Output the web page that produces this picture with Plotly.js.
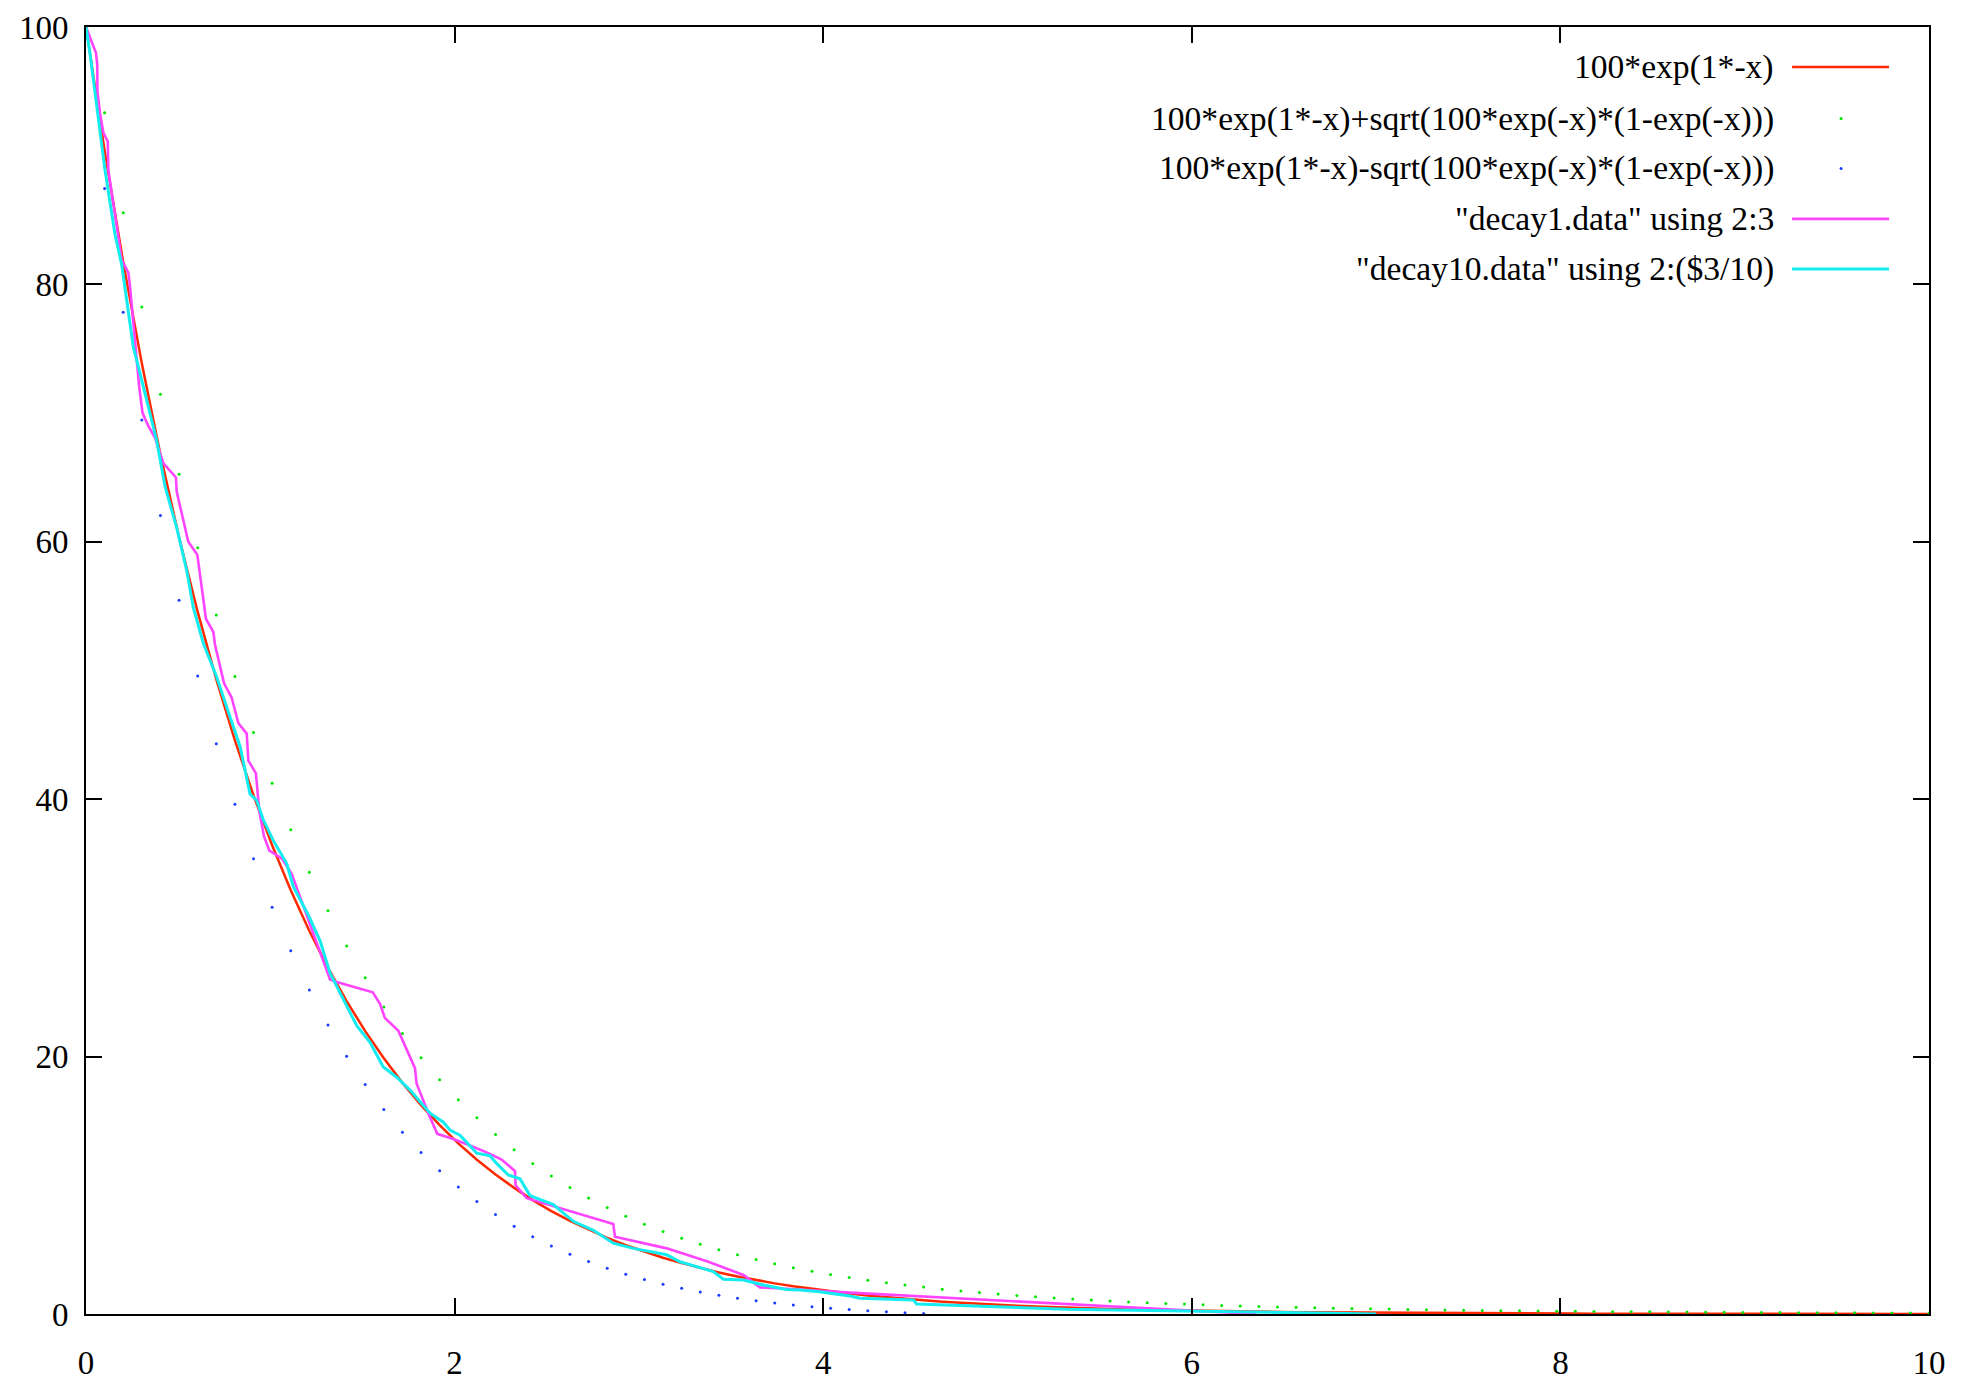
<!DOCTYPE html>
<html>
<head>
<meta charset="utf-8">
<script src="https://cdn.plot.ly/plotly-3.0.1.min.js"></script>
<style>html,body{margin:0;padding:0;background:#fff;}#chart{width:1968px;height:1383px;}</style>
</head>
<body>
<div id="chart"></div>
<script>
// Function samples (gnuplot, 100 samples on [0,10])
const fx = [0,0.101,0.202,0.303,0.404,0.505,0.606,0.707,0.808,0.909,1.010,1.111,1.212,1.313,1.414,1.515,1.616,1.717,1.818,1.919,2.020,2.121,2.222,2.323,2.424,2.525,2.626,2.727,2.828,2.929,3.030,3.131,3.232,3.333,3.434,3.535,3.636,3.737,3.838,3.939,4.040,4.141,4.242,4.343,4.444,4.545,4.646,4.747,4.848,4.949,5.051,5.152,5.253,5.354,5.455,5.556,5.657,5.758,5.859,5.960,6.061,6.162,6.263,6.364,6.465,6.566,6.667,6.768,6.869,6.970,7.071,7.172,7.273,7.374,7.475,7.576,7.677,7.778,7.879,7.980,8.081,8.182,8.283,8.384,8.485,8.586,8.687,8.788,8.889,8.990,9.091,9.192,9.293,9.394,9.495,9.596,9.697,9.798,9.899,10];

const expY = [100,90.39,81.71,73.86,66.76,60.35,54.55,49.31,44.57,40.29,36.42,32.92,29.76,26.90,24.31,21.98,19.87,17.96,16.23,14.67,13.26,11.99,10.84,9.80,8.85,8.00,7.23,6.54,5.91,5.34,4.83,4.37,3.95,3.57,3.22,2.92,2.64,2.38,2.15,1.95,1.76,1.59,1.44,1.30,1.17,1.06,0.96,0.87,0.78,0.71,0.64,0.58,0.52,0.47,0.43,0.39,0.35,0.32,0.29,0.26,0.23,0.21,0.19,0.17,0.16,0.14,0.13,0.12,0.10,0.09,0.085,0.077,0.069,0.063,0.057,0.051,0.046,0.042,0.038,0.034,0.031,0.028,0.025,0.023,0.021,0.019,0.017,0.015,0.014,0.012,0.011,0.010,0.009,0.008,0.007,0.007,0.006,0.005,0.005,0.005];

const upperY = [100,93.34,85.57,78.25,71.47,65.24,59.53,54.31,49.54,45.19,41.23,37.62,34.33,31.33,28.60,26.12,23.86,21.80,19.92,18.21,16.65,15.24,13.94,12.77,11.70,10.72,9.83,9.01,8.27,7.59,6.97,6.41,5.89,5.42,4.99,4.60,4.24,3.91,3.60,3.33,3.07,2.84,2.63,2.43,2.25,2.09,1.93,1.79,1.67,1.55,1.44,1.34,1.24,1.16,1.08,1.01,0.94,0.88,0.82,0.77,0.72,0.67,0.63,0.59,0.55,0.52,0.48,0.45,0.43,0.40,0.38,0.35,0.33,0.31,0.30,0.28,0.26,0.25,0.23,0.22,0.21,0.19,0.18,0.18,0.17,0.16,0.15,0.14,0.13,0.12,0.12,0.11,0.10,0.10,0.09,0.09,0.08,0.08,0.08,0.07];

const lowerX = [0,0.101,0.202,0.303,0.404,0.505,0.606,0.707,0.808,0.909,1.010,1.111,1.212,1.313,1.414,1.515,1.616,1.717,1.818,1.919,2.020,2.121,2.222,2.323,2.424,2.525,2.626,2.727,2.828,2.929,3.030,3.131,3.232,3.333,3.434,3.535,3.636,3.737,3.838,3.939,4.040,4.141,4.242,4.343,4.444,4.545];
const lowerY = [100,87.45,77.84,69.46,62.05,55.46,49.57,44.31,39.60,35.38,31.61,28.22,25.18,22.46,20.02,17.84,15.88,14.12,12.54,11.13,9.87,8.74,7.73,6.82,6.01,5.29,4.64,4.07,3.55,3.09,2.69,2.32,2.00,1.71,1.46,1.23,1.03,0.86,0.70,0.57,0.44,0.34,0.25,0.17,0.10,0.04];

// decay1.data (using 2:3)
const decay1X = [0,0.054,0.061,0.062,0.076,0.094,0.118,0.121,0.194,0.230,0.239,0.289,0.307,0.338,0.374,0.420,0.488,0.492,0.555,0.604,0.651,0.691,0.700,0.749,0.790,0.827,0.872,0.881,0.922,0.940,0.966,0.995,1.062,1.116,1.324,1.360,1.556,1.595,1.622,1.695,1.785,1.794,1.830,1.857,1.906,1.993,2.100,2.183,2.255,2.328,2.331,2.391,2.861,2.870,3.151,3.377,3.567,3.657,3.874,4.145,6.35];
const decay1Y = [100,98.0,97.1,95.0,93.3,91.8,91.1,88.9,81.9,80.9,79.8,72.0,70.0,69.0,68.1,66.1,65.0,63.9,60.0,59.0,54.0,53.0,52.0,49.0,47.9,45.9,45.1,43.0,42.0,39.1,37.1,36.0,35.4,34.2,26.0,25.8,25.0,24.1,23.0,22.0,19.1,17.9,16.6,15.6,14.0,13.6,13.0,12.5,12.0,11.1,10.0,9.0,7.0,6.0,5.1,4.06,3.03,2.07,1.9,1.66,0];

// decay10.data (using 2:($3/10))
const decay10X = [0,0.022,0.103,0.157,0.194,0.257,0.293,0.383,0.429,0.492,0.546,0.582,0.637,0.709,0.781,0.836,0.890,0.926,0.962,1.016,1.089,1.125,1.206,1.270,1.324,1.414,1.469,1.541,1.613,1.686,1.758,1.830,1.867,1.939,1.975,2.029,2.120,2.192,2.228,2.291,2.355,2.409,2.536,2.644,2.753,2.861,2.970,3.151,3.223,3.404,3.458,3.567,3.675,3.800,3.874,3.980,4.145,4.200,4.490,4.507,4.960,5.320,5.860,6.400,7.000];
const decay10Y = [100,97.9,88.9,83.9,81.5,75.1,73.1,67.9,64.3,61.1,57.8,54.9,52.1,49.5,46.4,44.1,40.4,39.9,38.4,36.8,35.0,33.2,31.0,29.0,26.5,23.9,22.4,21.1,19.2,18.4,17.4,16.2,15.6,14.9,14.3,13.9,12.5,12.3,11.7,10.8,10.5,9.2,8.5,7.2,6.5,5.5,5.1,4.6,4.06,3.3,2.7,2.64,2.25,1.9,1.86,1.73,1.4,1.22,1.09,0.78,0.57,0.36,0.26,0.12,0];

const names = [
  '100*exp(1*-x)',
  '100*exp(1*-x)+sqrt(100*exp(-x)*(1-exp(-x)))',
  '100*exp(1*-x)-sqrt(100*exp(-x)*(1-exp(-x)))',
  '"decay1.data" using 2:3',
  '"decay10.data" using 2:($3/10)'
];
const xTicks = [0,2,4,6,8,10];
const yTicks = [0,20,40,60,80,100];

const RED = '#ff2a00', GREEN = '#00e600', BLUE = '#1a3cff', MAG = '#ff44ff', CYAN = '#14ecf0';
const FONT = 'Liberation Serif, Times New Roman, serif';

const traces = [
  {x: fx, y: expY, mode: 'lines', line: {color: RED, width: 2.5}, name: names[0]},
  {x: fx, y: upperY, mode: 'markers', marker: {color: GREEN, size: 3}, name: names[1]},
  {x: lowerX, y: lowerY, mode: 'markers', marker: {color: BLUE, size: 3}, name: names[2]},
  {x: decay1X, y: decay1Y, mode: 'lines', line: {color: MAG, width: 2.6}, name: names[3]},
  {x: decay10X, y: decay10Y, mode: 'lines', line: {color: CYAN, width: 3}, name: names[4]}
];

// Legend (gnuplot style: text right-aligned, sample at right)
const rowY = [0.9689, 0.9289, 0.8901, 0.8509, 0.8120];
const textX = 0.9168, s0 = 0.9257, s1 = 0.9783, sMid = 0.9523;
const annotations = names.map((n, i) => ({
  xref: 'paper', yref: 'paper', x: textX, y: rowY[i], xanchor: 'right', yanchor: 'middle',
  text: n, showarrow: false, font: {family: FONT, size: 33.6, color: '#000'}
}));
const shapes = [];
[[0, RED, 2.5], [3, MAG, 2.6], [4, CYAN, 3]].forEach(([i, c, w]) => {
  shapes.push({type: 'line', xref: 'paper', yref: 'paper', x0: s0, x1: s1, y0: rowY[i], y1: rowY[i], line: {color: c, width: w}});
});
[[1, GREEN], [2, BLUE]].forEach(([i, c]) => {
  shapes.push({type: 'circle', xref: 'paper', yref: 'paper', xsizemode: 'pixel', ysizemode: 'pixel',
    xanchor: sMid, yanchor: rowY[i], x0: -1.5, x1: 1.5, y0: -1.5, y1: 1.5, fillcolor: c, line: {width: 0}});
});

const axisCommon = {
  ticks: 'inside', ticklen: 16, tickwidth: 2, tickcolor: '#000',
  showline: true, linewidth: 2, linecolor: '#000', mirror: 'ticks',
  showgrid: false, zeroline: false,
  tickfont: {family: FONT, size: 33, color: '#000'}
};

const layout = {
  width: 1968, height: 1383,
  margin: {l: 86, r: 39, t: 27, b: 69, pad: 0},
  paper_bgcolor: '#fff', plot_bgcolor: '#fff',
  showlegend: false,
  xaxis: Object.assign({}, axisCommon, {range: [0, 10], tickmode: 'array', tickvals: xTicks, ticktext: xTicks.map(String), ticklabelstandoff: 18}),
  yaxis: Object.assign({}, axisCommon, {range: [0, 100], tickmode: 'array', tickvals: yTicks, ticktext: yTicks.map(String), ticklabelstandoff: 9}),
  annotations: annotations,
  shapes: shapes
};

Plotly.newPlot('chart', traces, layout, {staticPlot: true, displayModeBar: false});
</script>
</body>
</html>
